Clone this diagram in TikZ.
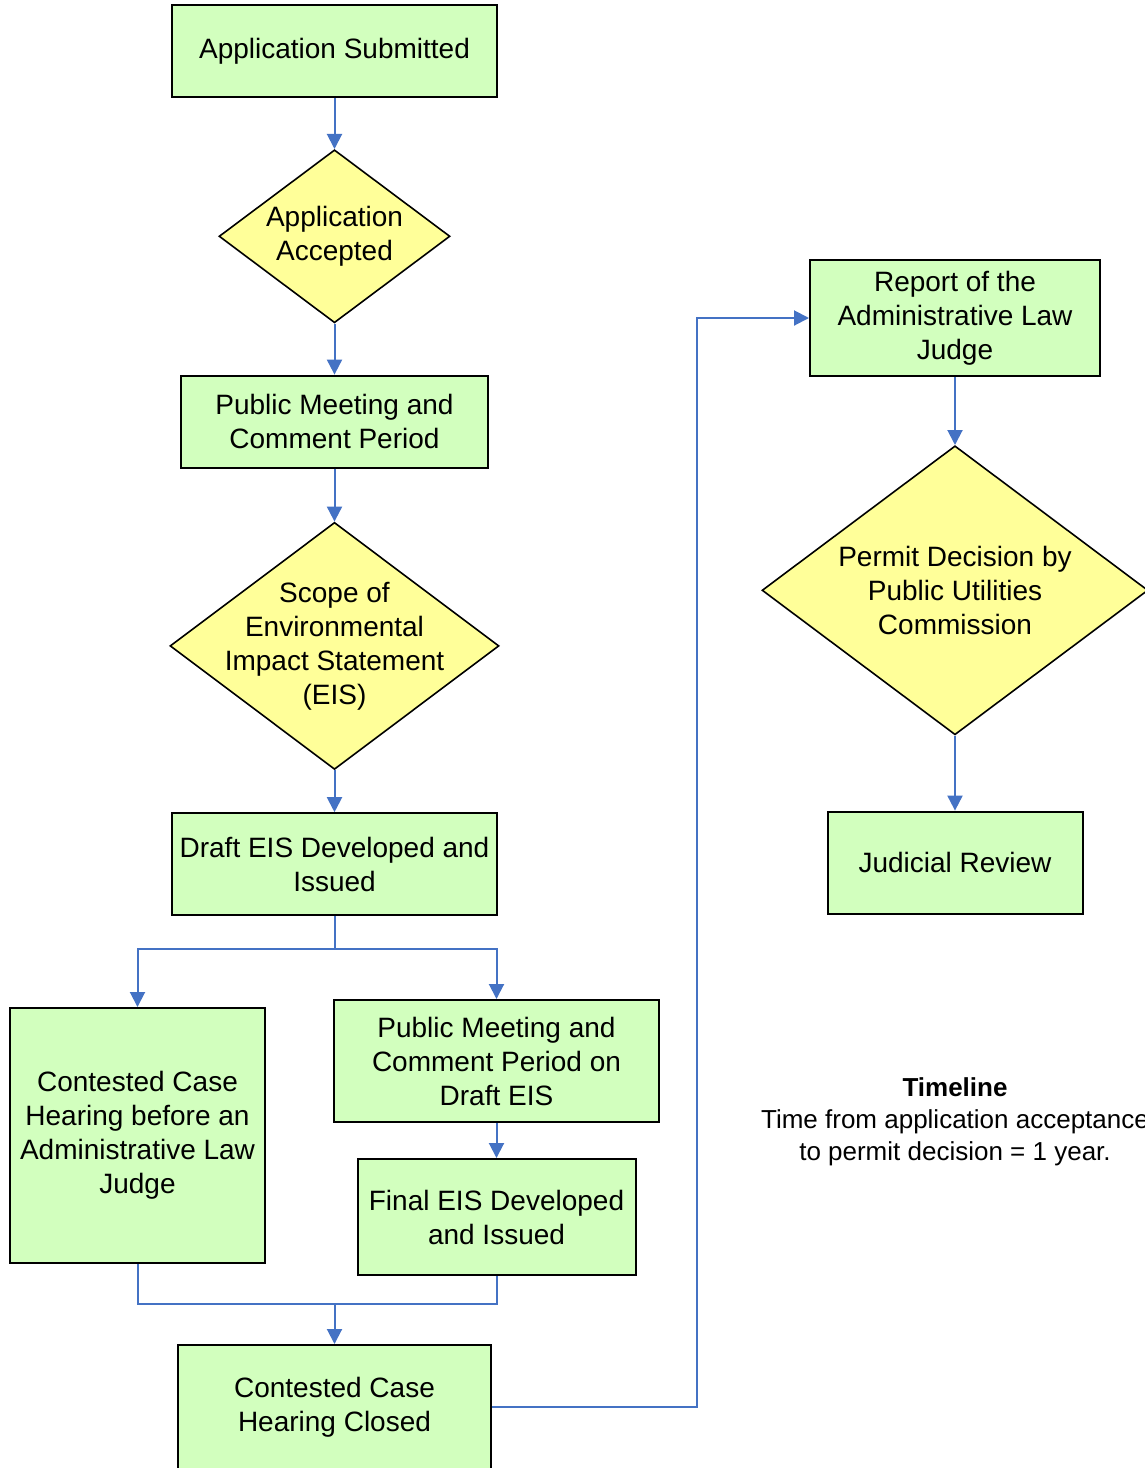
\documentclass[tikz,border=0pt]{standalone}
\usepackage{fontspec}
\setmainfont{Liberation Sans}
\usepackage{tikz}
\usetikzlibrary{positioning,shapes.geometric,arrows.meta}
\definecolor{boxgreen}{RGB}{210,255,190}
\definecolor{decisionyellow}{RGB}{255,255,153}
\definecolor{flowblue}{RGB}{68,114,196}

\begin{document}
\begin{tikzpicture}[
                process/.style={rectangle, draw=black, line width=1pt, fill=boxgreen, align=center, inner sep=2pt, font=\fontsize{14}{17}\selectfont},
                decision/.style={diamond, draw=black, line width=0.8pt, fill=decisionyellow, align=center, inner sep=0pt, shape aspect=1.33, font=\fontsize{14}{17}\selectfont},
                arrow/.style={-{Triangle[width=7.5pt,length=7.5pt]}, line width=1pt, flowblue},
                link/.style={line width=1pt, flowblue},
                note/.style={align=center, font=\fontsize{13}{16}\selectfont}
            ]
                \useasboundingbox (0,0) rectangle (572.5pt,-734pt);

                % left column
                \node[process, minimum width=162.5pt, minimum height=46pt] (submitted) at (167.25pt,-25.5pt) {Application Submitted};
                \node[decision, minimum width=115.5pt, minimum height=86.5pt, below=25.5pt of submitted] (accepted) {Application\\Accepted};
                \node[process, minimum width=153.5pt, minimum height=46pt, below=25.5pt of accepted] (meeting) {Public Meeting and\\Comment Period};
                \node[decision, minimum width=164.5pt, minimum height=123.5pt, inner xsep=-20pt, inner ysep=-10pt, below=26.5pt of meeting] (scope) {Scope of\\Environmental\\Impact Statement\\(EIS)};
                \node[process, minimum width=162.5pt, minimum height=51pt, below=21pt of scope] (draft) {Draft EIS Developed and\\Issued};

                \node[process, minimum width=127.5pt, minimum height=127.5pt] (hearing) at (68.75pt,-567.75pt) {Contested Case\\Hearing before an\\Administrative Law\\Judge};
                \node[process, minimum width=162.5pt, minimum height=61pt] (draftmeeting) at (248.25pt,-530.5pt) {Public Meeting and\\Comment Period on\\Draft EIS};
                \node[process, minimum width=139pt, minimum height=58pt, below=17.5pt of draftmeeting] (final) {Final EIS Developed\\and Issued};
                \node[process, minimum width=156.5pt, minimum height=62pt] (closed) at (167.25pt,-703.5pt) {Contested Case\\Hearing Closed};

                % right column
                \node[process, minimum width=145pt, minimum height=58pt] (report) at (477.5pt,-159pt) {Report of the\\Administrative Law\\Judge};
                \node[decision, minimum width=193pt, minimum height=144.5pt, below=34pt of report] (permit) {Permit Decision by\\Public Utilities\\Commission};
                \node[process, minimum width=127.5pt, minimum height=51pt, below=37.5pt of permit] (review) {Judicial Review};

                \coordinate[above=20pt of closed.north] (merge);

                \draw[arrow] (submitted) -- (accepted);
                \draw[arrow] (accepted) -- (meeting);
                \draw[arrow] (meeting) -- (scope);
                \draw[arrow] (scope) -- (draft);
                \draw[arrow] (draft.south) -- ++(0,-16.5pt) -| (hearing.north);
                \draw[arrow] (draft.south) -- ++(0,-16.5pt) -| (draftmeeting.north);
                \draw[arrow] (draftmeeting) -- (final);
                \draw[link] (hearing.south) |- (merge) -| (final.south);
                \draw[arrow] (merge) -- (closed);
                \draw[arrow] (closed.east) -- ++(102.5pt,0) |- (report.west);
                \draw[arrow] (report) -- (permit);
                \draw[arrow] (permit) -- (review);

                \node[note] (timeline) at (477.5pt,-561pt) {\textbf{Timeline}\\Time from application acceptance\\to permit decision = 1 year.};
            \end{tikzpicture}
\end{document}
